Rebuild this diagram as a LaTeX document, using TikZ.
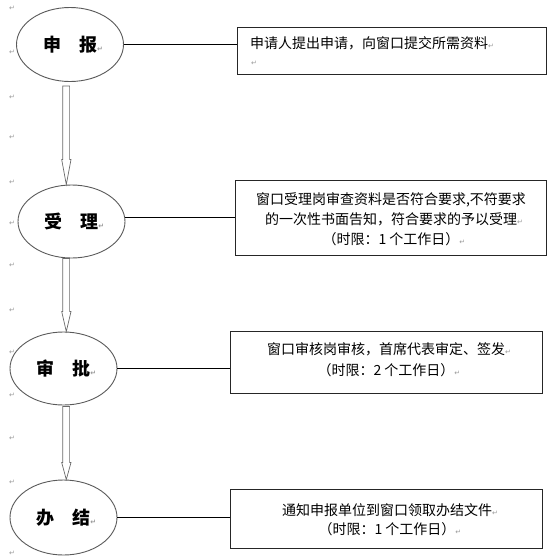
\documentclass[tikz,border=0pt]{standalone}
\usepackage{fontspec}
\setmainfont{Noto Sans CJK SC}
\newfontfamily\djv{DejaVu Sans}
\usetikzlibrary{shapes.geometric,calc}
\definecolor{pmgray}{HTML}{9A9A9A}
\definecolor{ellgray}{HTML}{5A5A5A}
\definecolor{arrgray}{HTML}{6A6A6A}
\newcommand\pmk{{\djv\fontsize{7}{7}\selectfont\textcolor{pmgray}{↵}}}
\newcommand\flowarrow[4]{%
  \draw[harrow] let \p1=(#1.south), \p2=(#2.north) in
    (62.8pt,\y1-#3) -- (62.8pt,\y2+#4) -- (61.7pt,\y2+#4) -- (66.3pt,\y2)
    -- (71pt,\y2+#4) -- (69.6pt,\y2+#4) -- (69.6pt,\y1-#3) -- cycle;}
\begin{document}
\begin{tikzpicture}[x=1pt,y=-1pt,
  stage/.style={ellipse, draw=ellgray, line width=0.9pt, fill=white,
    minimum width=107pt, minimum height=74pt, inner sep=0pt,
    font=\fontsize{18}{18}\selectfont\bfseries},
  infobox/.style={draw=black!85, line width=0.8pt, inner sep=0pt},
  boxtext/.style={font=\fontsize{14}{20}\selectfont, align=center, inner sep=0pt},
  lefttext/.style={font=\fontsize{14}{20}\selectfont, anchor=west, inner sep=0pt},
  pmark/.style={inner sep=0pt},
  link/.style={draw=black, line width=0.8pt},
  harrow/.style={draw=arrgray, line width=0.7pt, fill=white, line join=miter}]
\useasboundingbox (0,0) rectangle (554,560);
\fill[white] (0,0) rectangle (554,560);
% margin paragraph marks
\foreach \yy [count=\i] in {8,52,97,137,182,223,265,310,352,395,438,482,553}
  \node[pmark] (m\i) at (12,\yy) {\pmk};
% stages
\node[stage] (s1) at (70,44.5) {申　报\rlap{\pmk}};
\node[stage, minimum height=73pt] (s2) at (71.5,221.5) {受　理\rlap{\pmk}};
\node[stage, minimum height=73pt] (s3) at (63.5,368.5) {审　批\rlap{\pmk}};
\node[stage, minimum height=75pt] (s4) at (63.5,517.5) {办　结\rlap{\pmk}};
% boxes
\node[infobox, minimum width=309pt, minimum height=47pt] (b1) at (391.5,50.5) {};
\node[infobox, minimum width=311pt, minimum height=75pt] (b2) at (390.5,217.5) {};
\node[infobox, minimum width=312pt, minimum height=62pt] (b3) at (386,362) {};
\node[infobox, minimum width=312pt, minimum height=59pt] (b4) at (386,518.5) {};
% box texts
\node[lefttext] (t1) at (250,43) {申请人提出申请，向窗口提交所需资料\rlap{\pmk}};
\node[pmark, anchor=west] (t1b) at (251,63) {\pmk};
\node[boxtext] (t2) at (391,219) {窗口受理岗审查资料是否符合要求,不符要求\\
  的一次性书面告知，符合要求的予以受理\rlap{\pmk}\\
  （时限：1 个工作日）\rlap{\pmk}};
\node[boxtext, font=\fontsize{14}{21}\selectfont] (t3) at (386,359.5) {窗口审核岗审核，首席代表审定、签发\rlap{\pmk}\\
  （时限：2 个工作日）\rlap{\pmk}};
\node[boxtext, font=\fontsize{14}{19}\selectfont] (t4) at (387,519.5) {通知申报单位到窗口领取办结文件\rlap{\pmk}\\
  （时限：1 个工作日）\rlap{\pmk}};
% connectors
\draw[link] (s1.east) -- (s1.east -| b1.west);
\draw[link] (s2.4) -- (s2.4 -| b2.west);
\draw[link] (s3.east) -- (s3.east -| b3.west);
\draw[link] (s4.east) -- (s4.east -| b4.west);
% flow arrows
\flowarrow{s1}{s2}{4pt}{25pt}
\flowarrow{s2}{s3}{0pt}{20pt}
\flowarrow{s3}{s4}{1pt}{17pt}
\end{tikzpicture}
\end{document}
